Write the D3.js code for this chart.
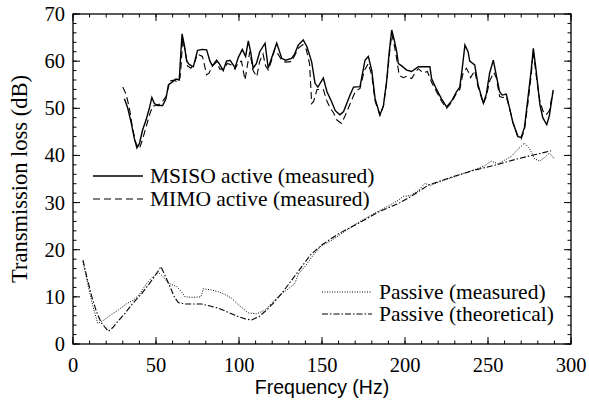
<!DOCTYPE html>
<html>
<head>
<meta charset="utf-8">
<script src="https://cdn.jsdelivr.net/npm/d3@7"></script>
<style>
  body { margin: 0; background: #fff; }
  text { font-family: "Liberation Serif", "DejaVu Serif", serif; fill: #000; }
</style>
</head>
<body>
<script>
var width = 589;
var height = 407;
var margin = {left: 73, right: 18, top: 14, bottom: 63};

// data: [frequency Hz, transmission loss dB]
var msisoActive = [[31,52],[33,50],[35,47],[37,43.5],[38.5,41.6],[40,42.5],[42,45.5],[44,47.5],[46,50],[47.5,52.3],[49,51],[51,50.6],[54,50.6],[56,52],[57.5,55],[60,55.6],[62,56.2],[64,56],[65,62],[65.7,65.8],[67,63.5],[68.5,60],[70,59.3],[72.5,58.8],[75,62.3],[78,62.5],[80.5,62.4],[82.5,60],[84,59],[86.5,60.2],[88,59.5],[90.5,58],[92.5,60],[94.6,60.2],[97.6,58.6],[99.6,60.8],[102,62.5],[104,61],[105.6,64.3],[107,62],[108.5,58.5],[110.5,59.5],[112.5,62],[115.7,63.8],[117.6,58.5],[119.5,60.5],[122.7,63.8],[124,62.5],[125.7,60.6],[128,60.2],[131.7,60.6],[133.5,61.5],[135.7,63.4],[138.7,64.5],[141,63],[143.8,59.8],[145.8,55.3],[147.5,54.5],[150.8,56.4],[153,53.5],[155.8,51.4],[158,49.5],[160.8,48.6],[163,49.3],[166.9,52.8],[169,54.5],[172.9,54.6],[175.9,60.2],[177.9,61],[180,58],[182,52],[184.9,48.6],[187,50.5],[189,56],[190.5,62],[192,66.6],[193.5,64.5],[195,62],[196,59.5],[198,59],[201,58.1],[204,57.8],[208,58.8],[215,58.8],[216,56.3],[219,54],[222,52],[225,50.3],[228,51.5],[231,53.5],[233,54.5],[234.5,58.5],[236.1,63.4],[238,62],[239,60],[242,59.2],[244,55],[247.2,51.1],[249,53],[251,57.5],[253.2,60.2],[255,57],[257,53.5],[258.5,52.8],[261,53],[263,50],[265,47],[268,44],[270,43.8],[272,46],[274,52],[276,58],[277.3,62.7],[279,58],[281.3,50.7],[283,48],[285.4,46.5],[287,48.5],[289.3,53.9]];

var mimoActive = [[30,54.5],[32,53],[34,50],[36,45.5],[38,42.5],[40,41.4],[42,43.5],[44,46],[46,48.5],[48,50.5],[50,50.6],[53,51],[56,52.5],[58.5,55.8],[61,56],[63,55.5],[64.5,56.5],[65.3,60],[66,64.5],[67.5,62.5],[69,59],[71,58.5],[73,59.5],[75,61.5],[78,61],[80.5,57.1],[82,57.5],[84,59],[86.5,59.8],[88.5,58.3],[90.5,58.3],[93,59.5],[95.5,59.2],[97.6,58.3],[99.6,59.8],[101.5,60],[103.6,56],[105,59],[106.5,62],[108.5,58],[110.7,56.7],[112.5,60],[114.5,61.5],[116,59],[117.6,58.1],[119.5,60],[121.5,62.5],[123.5,61.5],[125.7,60.2],[128,59.8],[131.7,59.9],[134,61.5],[136,62.8],[138.5,63.5],[140.5,62.5],[142.5,59.5],[143.8,51],[145,51.5],[147,54],[150.8,54],[153,51.5],[155,50],[157,49],[159,47.5],[161.8,46.8],[164,48.5],[167,51],[170,53.5],[172.9,54.2],[175.5,58],[177.9,59.5],[180,57],[182,51.5],[184.9,48.5],[187,50.5],[189,55.5],[190.5,61],[192,65.8],[193.5,63.5],[195,60.5],[196.5,57],[199,56.5],[201,56.8],[204,56.3],[206,57.5],[208,58.4],[211,57.5],[213.5,57.8],[216,55.5],[219,53.5],[222,51.5],[225,50],[228,51.2],[231,53.2],[233,54],[235,57.5],[237,58.5],[238.5,57.5],[239.5,56.5],[242,58],[244,54.5],[247.2,51],[249,52.5],[251,55.8],[253.5,57.6],[255,56.5],[257,52.5],[259,52.3],[261,52.5],[263,50],[265,47],[268,44],[270,43.5],[272,45.5],[274,51],[276,57],[277.3,62],[279,57],[281,52],[283,49.5],[285,48.6],[287,49.5],[289,53.5]];

var passiveMeasured = [[6,17.5],[9,12.5],[12,8],[14.9,4.4],[18.3,5],[22,6],[27.3,7.2],[32,8.5],[36.3,9.3],[40,10.5],[44.4,12.9],[48,14.2],[51.4,15.2],[54,14.4],[57.4,12.9],[62.5,12.2],[65.5,11],[67.5,10],[72,9.9],[77.1,10],[78.5,11.7],[83,11.5],[87.5,11.1],[91.5,10.5],[95.6,9.7],[100,8.2],[105.6,6.6],[110.6,6.4],[115.7,7.2],[120,8.8],[125,10.5],[129,11.5],[133.7,12.9],[136,15],[139.7,16.4],[144,18.5],[148.8,20.6],[150.8,21.1],[155,21.8],[160,23],[170,25.4],[180,27.4],[190,29.3],[196,30.5],[199,31.3],[203,31.5],[208,32.5],[212,34.1],[215,33.6],[220,34.3],[230,35.5],[236,36.3],[242,37],[248,37.8],[252,38.8],[256,38.2],[260,39],[264,39.8],[268,41.3],[272,42.6],[275,41.5],[278,39.3],[281,38.8],[284,39.5],[287,40.5],[290,39.3]];

var passiveTheoretical = [[6,17.8],[8.5,14],[11.2,10.2],[14,7],[17,4.5],[21.3,2.7],[24,3.5],[27,4.8],[31.3,6.5],[36,8.6],[41.4,10.7],[46,12.8],[50,14.8],[53,16.4],[55.5,14.5],[58.4,12.2],[61,10],[63.4,8.8],[67,8.5],[72,8.5],[77.5,8.5],[82,8.1],[87.5,7.6],[93,6.8],[99.6,5.8],[104,5.3],[107.6,5.1],[112,5.8],[116.7,7.2],[121,8.8],[125.7,10.7],[131,13.2],[137.8,16.4],[143,18.9],[149.8,21],[160,23.4],[171.9,25.6],[184,28],[196,29.8],[205,31.6],[214,33.7],[228,35.4],[242,36.9],[255,38],[268,39.3],[280,40.3],[288,41]];

var xMajorTicks = [0, 50, 100, 150, 200, 250, 300];
var yMajorTicks = [0, 10, 20, 30, 40, 50, 60, 70];
var xTitle = "Frequency (Hz)";
var yTitle = "Transmission loss (dB)";

var series = [
  {name: "MSISO active (measured)", data: msisoActive, dash: null, width: 1.4},
  {name: "MIMO active (measured)", data: mimoActive, dash: "7,4", width: 1.1},
  {name: "Passive (measured)", data: passiveMeasured, dash: "1,1.5", width: 1},
  {name: "Passive (theoretical)", data: passiveTheoretical, dash: "6,2,1.5,2", width: 1.1}
];

var svg = d3.select("body").append("svg")
  .attr("width", width)
  .attr("height", height);

var x = d3.scaleLinear().domain([0, 300]).range([margin.left, width - margin.right]);
var y = d3.scaleLinear().domain([0, 70]).range([height - margin.bottom, margin.top]);

var x0 = x.range()[0], x1 = x.range()[1];
var y0 = y.range()[0], y1 = y.range()[1];

// minor ticks (inward), all four sides
var xMinor = d3.range(0, 301, 10);
var yMinor = d3.range(0, 71, 2);
var tickG = svg.append("g").attr("stroke", "#000").attr("stroke-width", 1);

function addTicks(vals, isMajor, axis) {
  var len = isMajor ? 7 : 3.5;
  vals.forEach(function(v) {
    if (axis === "x") {
      tickG.append("line").attr("x1", x(v)).attr("x2", x(v)).attr("y1", y0).attr("y2", y0 - len);
      tickG.append("line").attr("x1", x(v)).attr("x2", x(v)).attr("y1", y1).attr("y2", y1 + len);
    } else {
      tickG.append("line").attr("y1", y(v)).attr("y2", y(v)).attr("x1", x0).attr("x2", x0 + len);
      tickG.append("line").attr("y1", y(v)).attr("y2", y(v)).attr("x1", x1).attr("x2", x1 - len);
    }
  });
}
addTicks(xMinor, false, "x");
addTicks(xMajorTicks, true, "x");
addTicks(yMinor, false, "y");
addTicks(yMajorTicks, true, "y");

svg.append("rect")
  .attr("x", x0).attr("y", y1)
  .attr("width", x1 - x0).attr("height", y0 - y1)
  .attr("fill", "none").attr("stroke", "#000").attr("stroke-width", 1.3);

// tick labels
svg.selectAll("text.xlab").data(xMajorTicks).enter().append("text")
  .attr("class", "xlab")
  .attr("x", function(d) { return x(d); })
  .attr("y", y0 + 28)
  .attr("text-anchor", "middle")
  .attr("font-size", 20.5)
  .text(function(d) { return d; });

svg.selectAll("text.ylab").data(yMajorTicks).enter().append("text")
  .attr("class", "ylab")
  .attr("x", x0 - 8)
  .attr("y", function(d) { return y(d) + 7; })
  .attr("text-anchor", "end")
  .attr("font-size", 20.5)
  .text(function(d) { return d; });

svg.append("text")
  .attr("x", (x0 + x1) / 2)
  .attr("y", height - 13)
  .attr("text-anchor", "middle")
  .attr("font-size", 19.5)
  .style("font-family", "'Liberation Sans', Arial, sans-serif")
  .text(xTitle);

svg.append("text")
  .attr("transform", "translate(27," + ((y0 + y1) / 2) + ") rotate(-90)")
  .attr("text-anchor", "middle")
  .attr("font-size", 22.5)
  .text(yTitle);

// curves
var line = d3.line()
  .x(function(d) { return x(d[0]); })
  .y(function(d) { return y(d[1]); });

svg.append("g").selectAll("path").data(series).enter().append("path")
  .attr("d", function(s) { return line(s.data); })
  .attr("fill", "none")
  .attr("stroke", "#000")
  .attr("stroke-width", function(s) { return s.width; })
  .attr("stroke-dasharray", function(s) { return s.dash; });

// legends
var legendPos = [
  {x: 93, y: 176},
  {x: 93, y: 199},
  {x: 322, y: 292},
  {x: 322, y: 314}
];
var legend = svg.append("g").selectAll("g").data(series).enter().append("g")
  .attr("transform", function(s, i) { return "translate(" + legendPos[i].x + "," + legendPos[i].y + ")"; });
legend.append("line")
  .attr("x1", 0).attr("x2", 50).attr("y1", 0).attr("y2", 0)
  .attr("stroke", "#000")
  .attr("stroke-width", function(s) { return s.width; })
  .attr("stroke-dasharray", function(s) { return s.dash; });
legend.append("text")
  .attr("x", 57)
  .attr("y", 7)
  .attr("font-size", 21.5)
  .text(function(s) { return s.name; });
</script>
</body>
</html>
